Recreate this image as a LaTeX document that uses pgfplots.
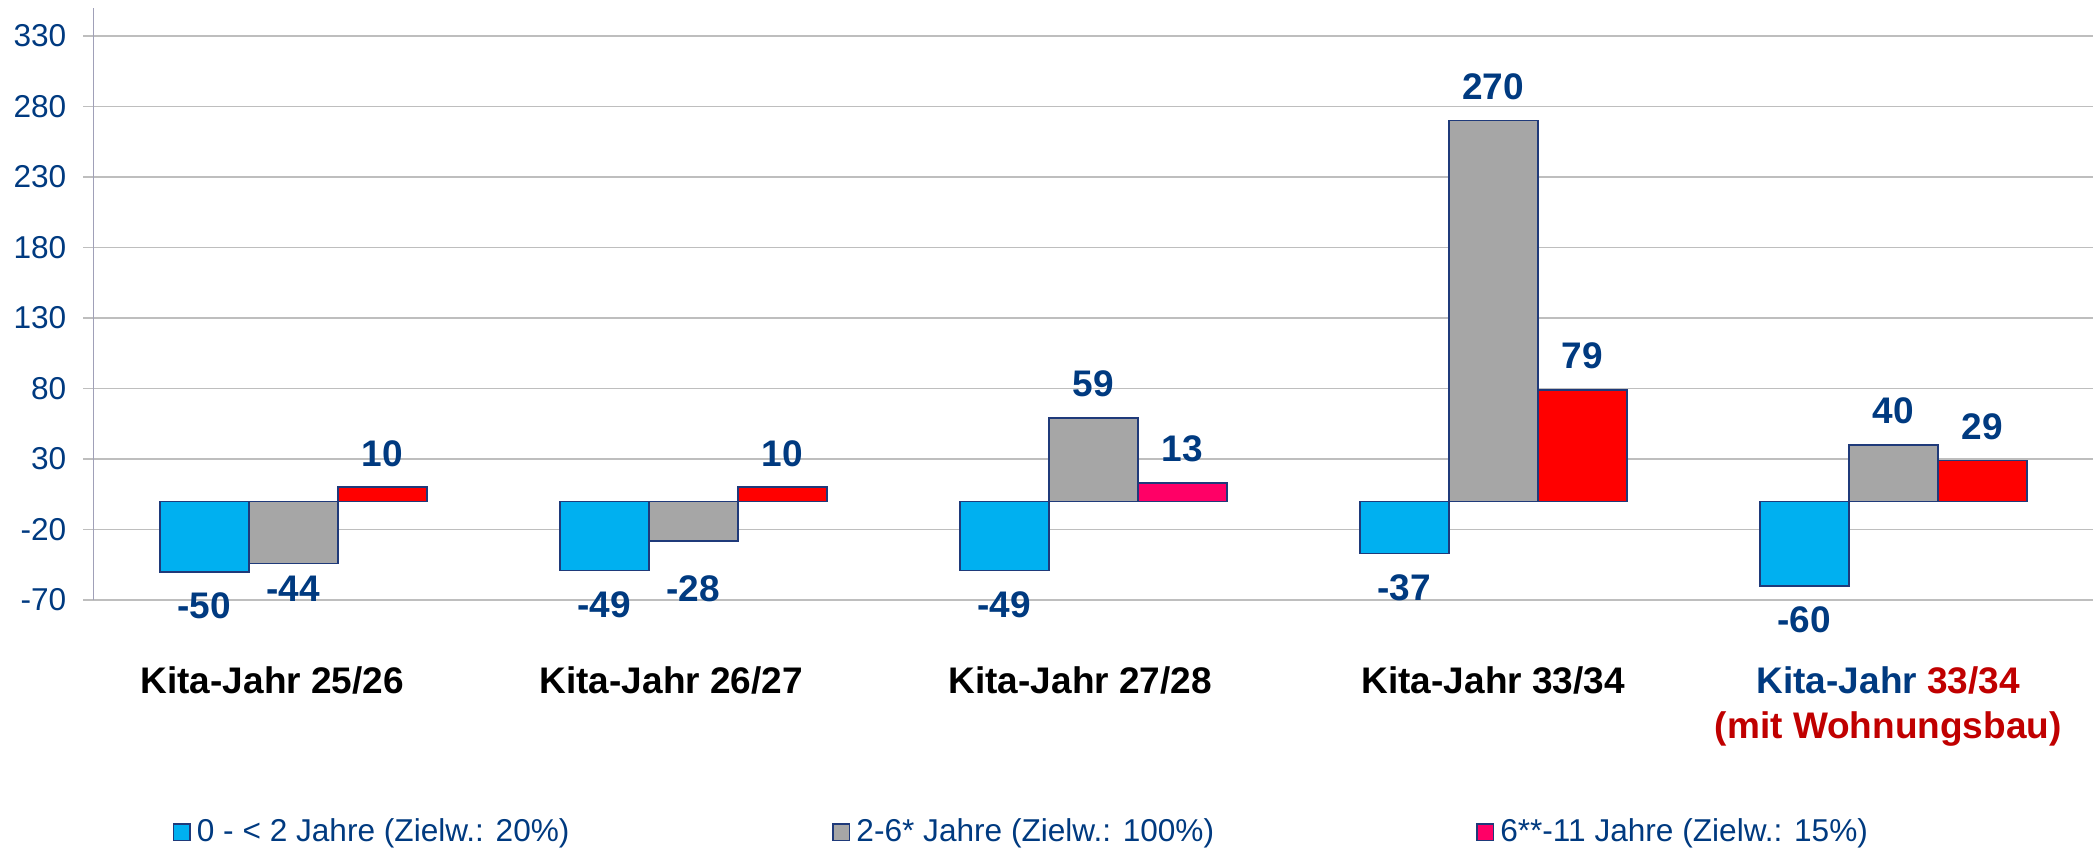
\documentclass[border=0pt]{standalone}
\usepackage{fontspec}
\setmainfont{Liberation Sans}
\usepackage{pgfplots}
\pgfplotsset{compat=1.18}
\definecolor{c1}{HTML}{00B0F0}
\definecolor{c2}{HTML}{A6A6A6}
\definecolor{c3}{HTML}{FF0000}
\definecolor{c4}{HTML}{FF0066}
\definecolor{bd}{HTML}{1F3A7A}
\definecolor{tx}{HTML}{003A80}
\definecolor{dr}{HTML}{C00000}
\definecolor{gr}{HTML}{BEBEBE}
\definecolor{ax}{HTML}{A0A0B8}
\begin{document}
\begin{tikzpicture}
\begin{axis}[
  at={(0,0)}, anchor=south west,
  scale only axis, width=1000pt, height=296.1pt,
  xmin=-0.5, xmax=4.5, ymin=-70, ymax=350,
  ybar, bar width=0.2226,
  ytick={-70,-20,...,330},
  ymajorgrids, grid style={gr, line width=0.65pt},
  axis x line*=bottom, axis y line*=left,
  x axis line style={draw=none},
  y axis line style={ax, line width=0.65pt, -},
  tick align=outside, major tick length=5pt,
  ytick style={gr, line width=0.65pt},
  xtick style={draw=none},
  /pgf/number format/assume math mode=true,
  yticklabel style={font=\fontsize{15.8}{19}\selectfont, text=tx, xshift=-5pt},
  xtick={-0.0525,0.945,1.9675,3,3.9875},
  xticklabels={Kita-Jahr 25/26, Kita-Jahr 26/27, Kita-Jahr 27/28, Kita-Jahr 33/34,
    {\textcolor{tx}{Kita-Jahr} \textcolor{dr}{33/34}\\\textcolor{dr}{(mit Wohnungsbau)}}},
  xticklabel style={font=\fontsize{18.5}{22.5}\selectfont\bfseries, text=black, align=center, anchor=north, inner sep=0pt, yshift=-28pt},
  every node near coord/.append style={font=\fontsize{18.5}{22}\selectfont\bfseries, text=tx, inner xsep=0pt, inner ysep=10pt},
  legend columns=3,
  legend cell align=left,
  legend image code/.code={\draw[#1, line width=0.8pt] (0pt,-4.15pt) rectangle (8.3pt,4.15pt);},
  legend style={draw=none, fill=none, at={(rel axis cs:0,0)}, anchor=west, xshift=39.7pt, yshift=-116pt,
    inner sep=0pt, outer sep=0pt, column sep=0pt, font=\fontsize{15.8}{19}\selectfont, text=tx,
    nodes={inner sep=0pt}},
]
\addplot[forget plot, fill=c1, draw=bd, line width=0.8pt, bar shift=-0.2226, nodes near coords]
  coordinates {(0,-50) (1,-49) (2,-49) (3,-37) (4,-60)};
\addplot[forget plot, fill=c2, draw=bd, line width=0.8pt, bar shift=0, nodes near coords,
  visualization depends on={\thisrow{s}\as\lshift},
  every node near coord/.append style={yshift=\lshift pt}]
  table[x=x, y=y] {
  x y s
  0 -44 4
  1 -28 -6.8
  2 59 0
  3 270 0
  4 40 0
  };
\addplot[forget plot, fill=c3, draw=bd, line width=0.8pt, bar shift=0.2226, nodes near coords]
  coordinates {(0,10) (1,10) (2,13) (3,79) (4,29)};
\addplot[forget plot, fill=c4, draw=bd, line width=0.8pt, bar shift=0.2226]
  coordinates {(2,13)};
\addlegendimage{fill=c1, draw=bd}
\addlegendentry{\makebox[320.7pt][l]{\hspace{3pt}0 - < 2 Jahre (Zielw.: 20\%)}}
\addlegendimage{fill=c2, draw=bd}
\addlegendentry{\makebox[312.8pt][l]{\hspace{3pt}2-6* Jahre (Zielw.: 100\%)}}
\addlegendimage{fill=c4, draw=bd}
\addlegendentry{\makebox[250pt][l]{\hspace{3pt}6**-11 Jahre (Zielw.: 15\%)}}
\end{axis}
\pgfresetboundingbox
\path (-46.65pt,-123.5pt) rectangle (1000.35pt,300pt);
\end{tikzpicture}
\end{document}
